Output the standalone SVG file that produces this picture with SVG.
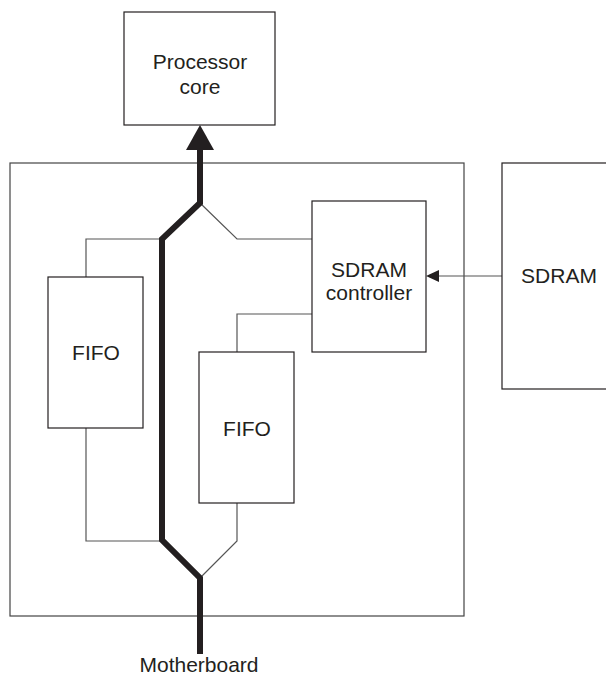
<svg xmlns="http://www.w3.org/2000/svg" width="606" height="675" viewBox="0 0 606 675">
<style>
.box{fill:#fff;stroke:#231f20;stroke-width:1.2}
.outer{fill:none;stroke:#444;stroke-width:1.2}
.thin{fill:none;stroke:#555;stroke-width:1.2}
.thick{fill:none;stroke:#231f20;stroke-width:6;stroke-linejoin:miter}
.t{font-family:"Liberation Sans",Arial,sans-serif;font-size:21px;fill:#231f20;text-anchor:middle}
</style>
<rect width="606" height="675" fill="#fff"/>
<g id="chip"><rect class="outer" x="10" y="163" width="454" height="453"/></g>
<g id="connectors">
<polyline class="thin" points="86,277 86,239 162,239"/>
<polyline class="thin" points="86,428 86,541 162,541"/>
<polyline class="thin" points="200,203 237,239 312,239"/>
<polyline class="thin" points="312,314 237,314 237,352"/>
<polyline class="thin" points="237,503 237,541 200,578"/>
<line class="thin" x1="502" y1="276" x2="438" y2="276"/>
<polygon points="426,276 439,270 439,282" fill="#231f20"/>
<polyline class="thick" points="200,654 200,578 162,540 162,239 200,203 200,148"/>
<polygon points="200,125 186,150 214,150" fill="#231f20"/>
</g>
<g id="processor"><rect class="box" x="124" y="12" width="151" height="113"/>
<text class="t" x="200" y="69">Processor</text><text class="t" x="200" y="94">core</text></g>
<g id="fifo1"><rect class="box" x="48" y="277" width="95" height="151"/><text class="t" x="96" y="360">FIFO</text></g>
<g id="fifo2"><rect class="box" x="199" y="352" width="95" height="151"/><text class="t" x="247" y="436">FIFO</text></g>
<g id="sdramctl"><rect class="box" x="312" y="201" width="114" height="151"/>
<text class="t" x="369" y="277">SDRAM</text><text class="t" x="369" y="300">controller</text></g>
<g id="sdram"><rect class="box" x="502" y="163" width="110" height="226"/><text class="t" x="559" y="283">SDRAM</text></g>
<g id="motherboard"><text class="t" x="199" y="672">Motherboard</text></g>
</svg>
